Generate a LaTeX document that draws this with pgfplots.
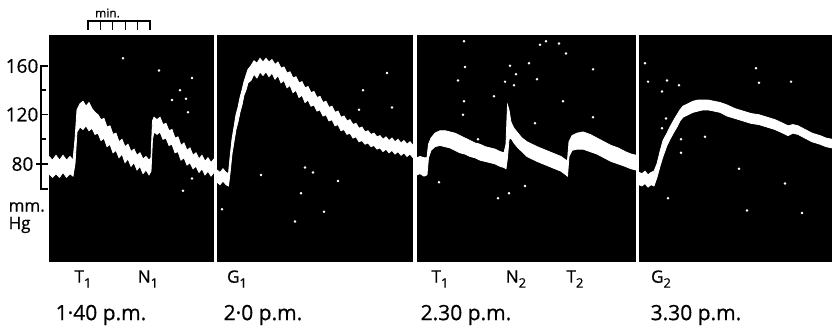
\documentclass[border=0pt]{standalone}
\usepackage{fontspec}
\setmainfont{Open Sans}[FakeBold=0.6,AutoFakeBold=0]
\usepackage{pgfplots}
\usepackage{pgfplotstable}
\pgfplotsset{compat=1.18}
\usepgfplotslibrary{fillbetween}

\pgfplotstableread{
x lo hi
49 72 86
52.5 69 83
56 72 87
59.5 69 83
63 73 87
66.5 69 83
70 72 86
73 70 83
75 80 100
77 106 124
80 110 129
83 108 131
86 111 127
89 107 130
92 109 125
95 104 122
98 105 120
101 99 116
104 101 117
107 94 110
110 96 111
113 89 104
116 91 105
119 85 98
122 88 100
125 81 94
128 84 96
131 78 90
134 81 92
137 75 87
140 78 89
143 72 84
146 75 86
149 71 83
151 74 85
152.5 100 115
154 106 118
157 104 116
160 106 118
163 100 112
166 101 113
169 95 107
172 96 108
175 89 101
178 90 102
181 83 95
184 85 97
187 79 91
190 81 93
193 76 87
196 78 89
199 73 84
202 76 87
205 71 82
208 74 85
211 70 81
214 73 84
}\pa

\pgfplotstableread{
x lo hi
217 65 75
220 63 73
223 66 76
226 63 73
228.5 62 72
230 72 85
232 88 100
234 98 110
236 108 120
238 114 126
240 122 134
242 128 140
244 136 147
246 140 152
248 146 157
251 148 160
254 153 164
257 150 162
260 155 166
263 152 163
266 155 166
269 151 163
272 154 165
275 149 161
278 152 163
281 146 158
284 148 159
287 142 154
290 144 155
293 138 150
296 140 151
299 134 146
302 136 147
305 130 142
308 132 143
311 127 138
314 128 139
317 123 134
320 124 135
323 119 130
326 120 131
329 115 126
332 116 127
335 111 122
338 112 123
341 107 118
344 108 119
347 104 115
350 105 116
353 101 112
356 102 113
359 98 109
362 99 110
365 96 106
368 97 107
371 94 104
374 95 105
377 92 102
380 93 103
383 90 100
386 92 102
389 89 99
392 91 101
395 88 98
398 90 100
401 87 97
404 89 99
407 86 96
410 88 98
413 85 95
}\pb

\pgfplotstableread{
x lo hi
417 71 85
420 72 86
424 70 85
427 71 85
428.5 85 96
431 91 101
435 94 105
440 95 107
445 94 107
450 93 106
455 91 105
460 89 103
465 88 101
470 86 99
475 85 97
480 83 96
485 82 94
490 81 93
495 80 92
500 78 90
504 77 89
506 76 96
507.5 85 128
509 100 124
511 101 114
514 97 109
518 93 105
522 90 101
527 86 98
532 84 96
537 82 94
543 80 92
549 78 90
555 76 88
561 74 86
566 71 83
567.5 70 83
569 86 98
572 91 103
577 92 105
583 92 106
590 90 104
597 88 101
604 85 98
611 82 95
618 80 93
625 78 90
631 76 88
636 75 87
}\pc

\pgfplotstableread{
x lo hi
639 63 73
642 62 72
645 64 74
648 61 71
651 63 73
654 62 74
657 69 80
660 78 90
663 86 99
667 95 105
670 100 110
674 106 116
677 110 120
680 115 124
683 118 127
688 120 129
693 122 131
698 123 132
703 124 132
708 124 132
714 123 131
720 122 130
727 119 128
735 117 125
743 115 123
751 113 121
759 112 120
767 110 118
775 108 116
783 105 113
788 103 111
793 105 112
798 104 111
805 101 108
812 98 105
820 96 103
826 94 101
832 93 100
}\pd

\pgfplotstableread{
x y
123 166
159 156
192 150
180 140
172 132
186 133
188 122
192 68
183 58
}\da

\pgfplotstableread{
x y
387 154
363 140
392 126
359 124
305 77
313 73
261 71
338 66
301 56
324 41
295 33
222 43
}\db

\pgfplotstableread{
x y
464 180
546 180
559 178
529 162
465 159
510 160
516 153
458 148
505 147
514 144
537 149
593 157
494 135
464 131
563 131
463 120
593 118
535 113
478 100
439 65
525 62
509 56
498 52
566 170
540 177
}\dc

\pgfplotstableread{
x y
645 162
648 147
667 148
679 144
662 139
756 158
759 146
791 147
666 117
662 109
705 102
681 100
681 89
739 76
785 64
668 52
802 40
747 42
}\dd

\pgfplotsset{panel/.style={scale only axis, height=113.5pt, ymin=0, ymax=185,
  anchor=south west, axis background/.style={fill=black},
  axis line style={draw=none}, ticks=none, clip=true}}

\newcommand{\trace}[2]{%
  \addplot[name path=hi, draw=white, line width=0.4pt] table[x=x,y=hi]{#1};
  \addplot[name path=lo, draw=white, line width=0.4pt] table[x=x,y=lo]{#1};
  \addplot[white] fill between[of=hi and lo];
  \addplot[only marks, mark=*, mark size=0.4pt, white] table[x=x,y=y]{#2};
}
\newcommand{\sub}[1]{\raisebox{-0.55ex}{\fontsize{6.5}{7}\selectfont #1}}

\begin{document}
\begin{tikzpicture}
\path (0,0) rectangle (416pt,-164pt);

\begin{axis}[panel, at={(24.5pt,-131pt)}, width=82.5pt, xmin=49, xmax=214]
\trace{\pa}{\da}
\end{axis}
\begin{axis}[panel, at={(108.5pt,-131pt)}, width=98pt, xmin=217, xmax=413]
\trace{\pb}{\db}
\end{axis}
\begin{axis}[panel, at={(208.5pt,-131pt)}, width=109.5pt, xmin=417, xmax=636]
\trace{\pc}{\dc}
\end{axis}
\begin{axis}[panel, at={(319.5pt,-131pt)}, width=96.5pt, xmin=639, xmax=832]
\trace{\pd}{\dd}
\end{axis}

\begin{scope}[x=0.5pt,y=-0.5pt,line width=0.65pt]
% pressure scale
\draw (48,66) -- (41,66) -- (41,189) -- (48,189);
\draw (41,90) -- (46,90);
\draw (41,114.5) -- (48,114.5);
\draw (41,139) -- (46,139);
\draw (36,164) -- (48,164);
\node[anchor=east, font=\fontsize{9.5}{10}\selectfont, inner sep=0pt] at (39,66) {160};
\node[anchor=east, font=\fontsize{9.5}{10}\selectfont, inner sep=0pt] at (39,114.5) {120};
\node[anchor=east, font=\fontsize{9.5}{10}\selectfont, inner sep=0pt] at (34,164) {80};
\node[anchor=west, font=\fontsize{8.5}{9}\selectfont, inner sep=0pt] at (8,207) {mm.};
\node[anchor=west, font=\fontsize{8.5}{9}\selectfont, inner sep=0pt] at (8,225) {Hg};
% time scale
\draw (88,30) -- (88,21) -- (150,21) -- (150,30);
\foreach \t in {100.4,112.8,125.2,137.6} \draw (\t,21) -- (\t,30);
\node[font=\fontsize{6}{7}\selectfont, inner sep=0pt] at (107.5,13) {min.};
% event labels
\foreach \px/\lab in {83/T\sub{1}, 148/N\sub{1}, 237/G\sub{1},
  440/T\sub{1}, 516/N\sub{2}, 575/T\sub{2}, 661/G\sub{2}}
  \node[font=\fontsize{8.5}{9}\selectfont, inner sep=0pt] at (\px,279) {\lab};
% times
\node[anchor=west, font=\fontsize{10.5}{12}\selectfont, inner sep=0pt] at (55,315) {1·40 p.m.};
\node[anchor=west, font=\fontsize{10.5}{12}\selectfont, inner sep=0pt] at (223,315) {2·0 p.m.};
\node[anchor=west, font=\fontsize{10.5}{12}\selectfont, inner sep=0pt] at (420,315) {2.30 p.m.};
\node[anchor=west, font=\fontsize{10.5}{12}\selectfont, inner sep=0pt] at (650,315) {3.30 p.m.};
\end{scope}
\end{tikzpicture}
\end{document}
